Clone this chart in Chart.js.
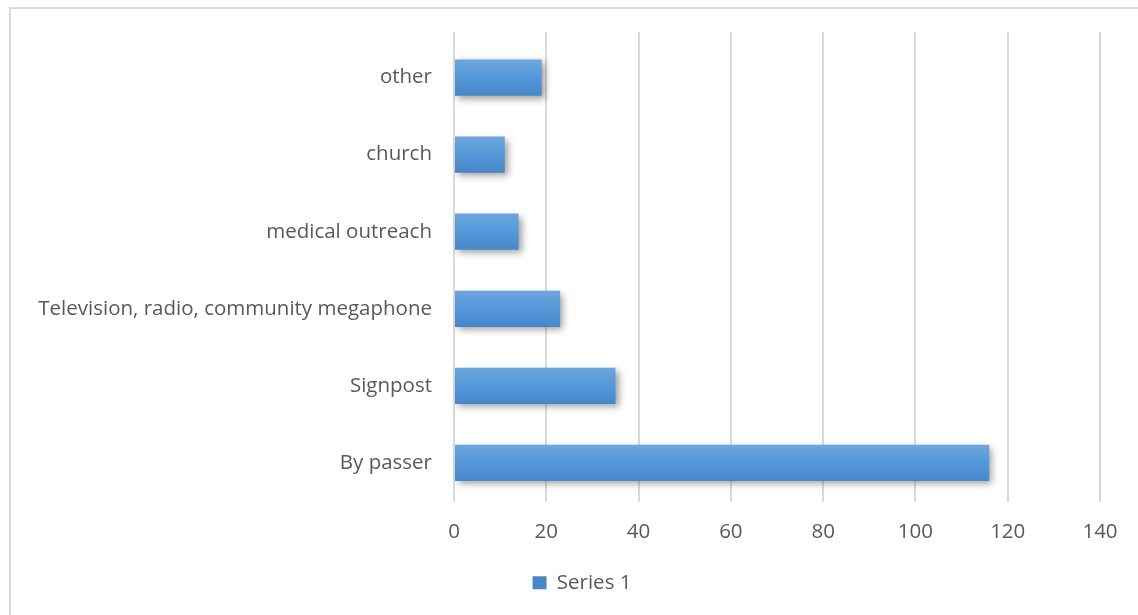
<!DOCTYPE html>
<html>
<head>
<meta charset="utf-8">
<script src="https://cdn.jsdelivr.net/npm/chart.js@4.4.1/dist/chart.umd.min.js"></script>
<style>
  html, body { margin: 0; padding: 0; background: #fff; overflow: hidden; }
  #wrap { position: relative; width: 1138px; height: 615px; }
  #frame {
    position: absolute; left: 9px; top: 7px; width: 1140px; height: 620px;
    border-left: 2px solid #d9d9d9; border-top: 2px solid #d9d9d9;
    pointer-events: none;
  }
</style>
</head>
<body>
<div id="wrap">
  <canvas id="sourceChart" width="1138" height="615"></canvas>
  <div id="frame"></div>
</div>
<script>
// Where people heard about the clinic (counts)
const categories = ['By passer', 'Signpost', 'Television, radio, community megaphone', 'medical outreach', 'church', 'other'];
const series1 = [116, 35, 23, 14, 11, 19];
const xTicks = [0, 20, 40, 60, 80, 100, 120, 140];

const BAR_PCT = 0.47;
const FONT = '"Open Sans", sans-serif';
const FONT_SIZE = 20.5;
const GRID_OVERHANG = 7; // gridlines run a little above the first category
const LEGEND_SHIFT = 32; // legend sits right of the canvas centre

// vertical gradient per bar, lighter on top
function barFill(c) {
  const chart = c.chart;
  const ys = chart.scales.y;
  if (!ys || c.dataIndex === undefined || !ys.height) return '#5897d8';
  const yc = ys.getPixelForValue(c.dataIndex);
  const half = ys.height / categories.length * BAR_PCT / 2;
  const g = chart.ctx.createLinearGradient(0, yc - half, 0, yc + half);
  g.addColorStop(0, '#6ca6de');
  g.addColorStop(0.5, '#5598da');
  g.addColorStop(1, '#4787c9');
  return g;
}

// extend vertical gridlines slightly above the plot area
const gridOverhang = {
  id: 'gridOverhang',
  beforeDatasetsDraw(chart) {
    const xs = chart.scales.x;
    const top = chart.chartArea.top;
    const ctx = chart.ctx;
    ctx.save();
    ctx.strokeStyle = '#d9d9d9';
    ctx.lineWidth = 2;
    xTicks.forEach(v => {
      const x = Math.round(xs.getPixelForValue(v));
      ctx.beginPath();
      ctx.moveTo(x, top - GRID_OVERHANG);
      ctx.lineTo(x, top);
      ctx.stroke();
    });
    ctx.restore();
  }
};

// nudge the legend box to the right
const legendNudge = {
  id: 'legendNudge',
  afterLayout(chart) {
    if (!chart.legend) return;
    chart.legend.left += LEGEND_SHIFT;
    chart.legend.right += LEGEND_SHIFT;
  }
};

// soft drop shadow under the bars
const barShadow = {
  id: 'barShadow',
  beforeDatasetsDraw(chart) {
    const ctx = chart.ctx;
    ctx.save();
    ctx.shadowColor = 'rgba(0,0,0,0.38)';
    ctx.shadowBlur = 7;
    ctx.shadowOffsetX = 3;
    ctx.shadowOffsetY = 3;
  },
  afterDatasetsDraw(chart) {
    chart.ctx.restore();
  }
};

const ctx = document.getElementById('sourceChart').getContext('2d');
const chart = new Chart(ctx, {
  type: 'bar',
  data: {
    labels: categories,
    datasets: [{
      label: 'Series 1',
      data: series1,
      backgroundColor: barFill,
      borderWidth: 0,
      categoryPercentage: 1,
      barPercentage: BAR_PCT
    }]
  },
  options: {
    indexAxis: 'y',
    responsive: false,
    animation: false,
    layout: { padding: { top: 39, right: 38, left: 0, bottom: 12 } },
    scales: {
      x: {
        min: 0,
        max: 140,
        afterBuildTicks(scale) {
          scale.ticks = xTicks.map(v => ({ value: v }));
        },
        afterFit(scale) { scale.height = 61; },
        grid: { color: '#d9d9d9', lineWidth: 2, drawTicks: false },
        border: { display: false },
        ticks: { color: '#595959', padding: 18, font: { family: FONT, size: FONT_SIZE } }
      },
      y: {
        reverse: true,
        afterFit(scale) { scale.width = 454; },
        grid: { display: false, drawTicks: false },
        border: { display: false },
        ticks: { color: '#595959', padding: 22, font: { family: FONT, size: FONT_SIZE } }
      }
    },
    plugins: {
      legend: {
        position: 'bottom',
        labels: {
          color: '#595959',
          boxWidth: 14,
          boxHeight: 13,
          padding: 10,
          font: { family: FONT, size: FONT_SIZE }
        }
      },
      tooltip: { enabled: false }
    }
  },
  plugins: [gridOverhang, legendNudge, barShadow]
});
</script>
</body>
</html>
